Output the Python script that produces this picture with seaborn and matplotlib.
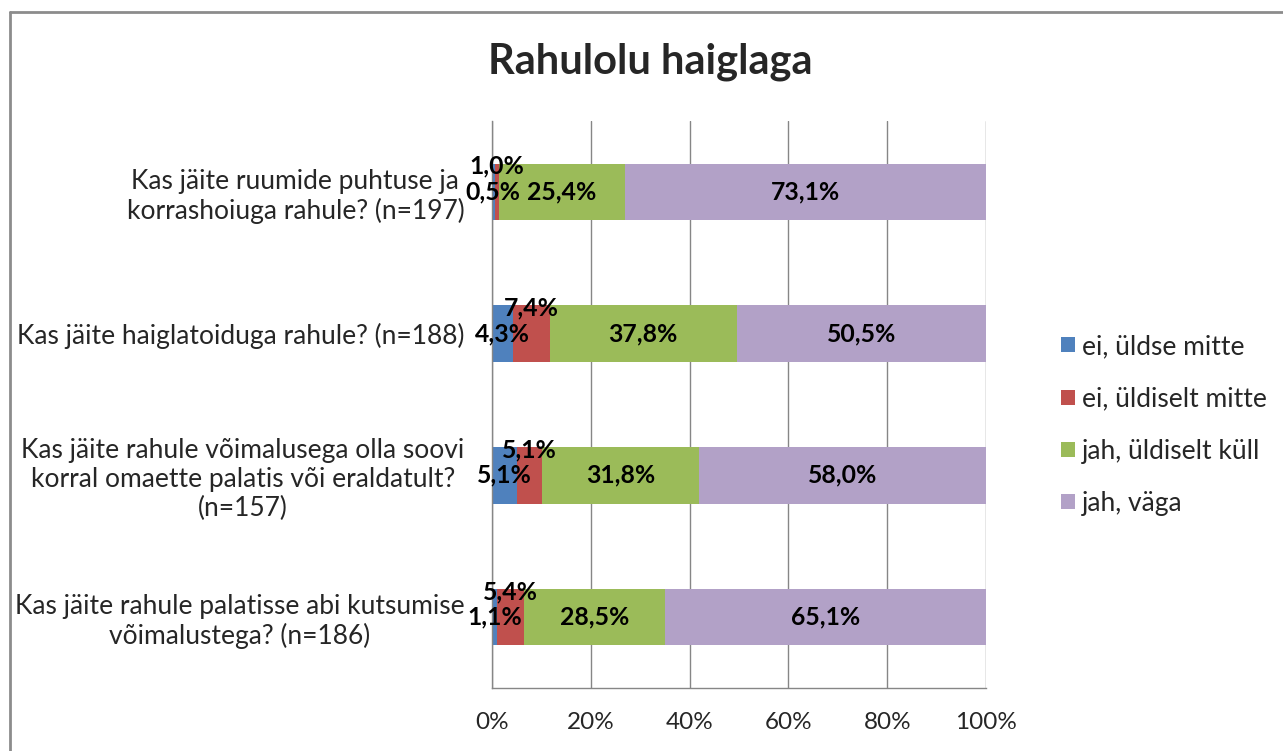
import pandas as pd
import seaborn as sns
import matplotlib.pyplot as plt
from matplotlib.patches import Patch
from matplotlib.lines import Line2D
from matplotlib.ticker import MultipleLocator, FixedLocator

# Küsimused ja vastuste jaotus (%)
kategooriad = [
    'Kas jäite ruumide puhtuse ja\nkorrashoiuga rahule? (n=197)',
    'Kas jäite haiglatoiduga rahule? (n=188)',
    'Kas jäite rahule võimalusega olla soovi\nkorral omaette palatis või eraldatult?\n(n=157)',
    'Kas jäite rahule palatisse abi kutsumise\nvõimalustega? (n=186)',
]
vastused = ['ei, üldse mitte', 'ei, üldiselt mitte', 'jah, üldiselt küll', 'jah, väga']
ei_uldse = [0.5, 4.3, 5.1, 1.1]
ei_uldiselt = [1.0, 7.4, 5.1, 5.4]
jah_kull = [25.4, 37.8, 31.8, 28.5]
jah_vaga = [73.1, 50.5, 58.0, 65.1]
varvid = ['#4F81BD', '#C0504D', '#9BBB59', '#B2A1C7']

df = pd.DataFrame({'kategooria': kategooriad,
                   vastused[0]: ei_uldse,
                   vastused[1]: ei_uldiselt,
                   vastused[2]: jah_kull,
                   vastused[3]: jah_vaga})
kum = df[vastused].cumsum(axis=1)
kum['kategooria'] = df['kategooria']

sns.set_style('white')
plt.rcParams['font.family'] = ['Lato', 'DejaVu Sans']

fig, ax = plt.subplots(figsize=(12.83, 7.51), dpi=100)
fig.subplots_adjust(left=0.3835, right=0.7685, bottom=0.0839, top=0.8389)

# Kuhjatud tulbad: kõige pikem enne, lühemad peale
for i in reversed(range(len(vastused))):
    sns.barplot(data=kum, x=vastused[i], y='kategooria', orient='h',
                color=varvid[i], saturation=1, width=0.4, linewidth=0, ax=ax)

# Väärtuste sildid
for r in range(len(df)):
    for j, v in enumerate(vastused):
        val = df.loc[r, v]
        keskel = kum.loc[r, v] - val / 2
        dy = -0.18 if (j == 1 and val < 8) else 0
        ax.text(keskel, r + dy, f'{val:.1f}'.replace('.', ',') + '%',
                ha='center', va='center', fontsize=17.8, fontweight='bold', color='black')

ax.set_xlim(0, 100)
ax.set_ylim(3.5, -0.5)
ax.xaxis.set_major_locator(MultipleLocator(20))
ax.xaxis.set_major_formatter('{x:.0f}%')
ax.grid(axis='x', color='#868686', linewidth=1)
ax.grid(axis='y', visible=False)
ax.set_axisbelow(True)
ax.set_xlabel('')
ax.set_ylabel('')
for s in ['top', 'right']:
    ax.spines[s].set_visible(False)
for s in ['left', 'bottom']:
    ax.spines[s].set_color('#868686')
    ax.spines[s].set_linewidth(1)

ax.tick_params(axis='x', length=7, width=1, color='#868686', labelsize=17.5, pad=10)
ax.tick_params(axis='y', which='major', length=0, labelsize=19, pad=20)
ax.yaxis.set_minor_locator(FixedLocator([-0.5, 0.5, 1.5, 2.5, 3.5]))
ax.tick_params(axis='y', which='minor', length=7, width=1, color='#868686')
for lbl in ax.get_yticklabels():
    lbl.set_multialignment('center')

# Legend
kastid = [Patch(facecolor=c, edgecolor='none') for c in varvid]
fig.legend(kastid, vastused, loc='center left', bbox_to_anchor=(0.8087, 0.434),
           frameon=False, fontsize=19, handlelength=0.5, handleheight=0.5,
           handletextpad=0.27, labelspacing=1.03)

fig.text(0.5066, 1 - 62 / 751, 'Rahulolu haiglaga', ha='center', va='center',
         fontsize=30, fontweight='bold')

# Diagrammi raam (vasak ja ülemine serv)
fig.add_artist(Line2D([10 / 1283, 1], [1 - 12 / 751] * 2, transform=fig.transFigure,
                      color='#8c8c8c', linewidth=2))
fig.add_artist(Line2D([10 / 1283] * 2, [0, 1 - 12 / 751], transform=fig.transFigure,
                      color='#8c8c8c', linewidth=2))

fig.savefig('out.png', dpi=100)
